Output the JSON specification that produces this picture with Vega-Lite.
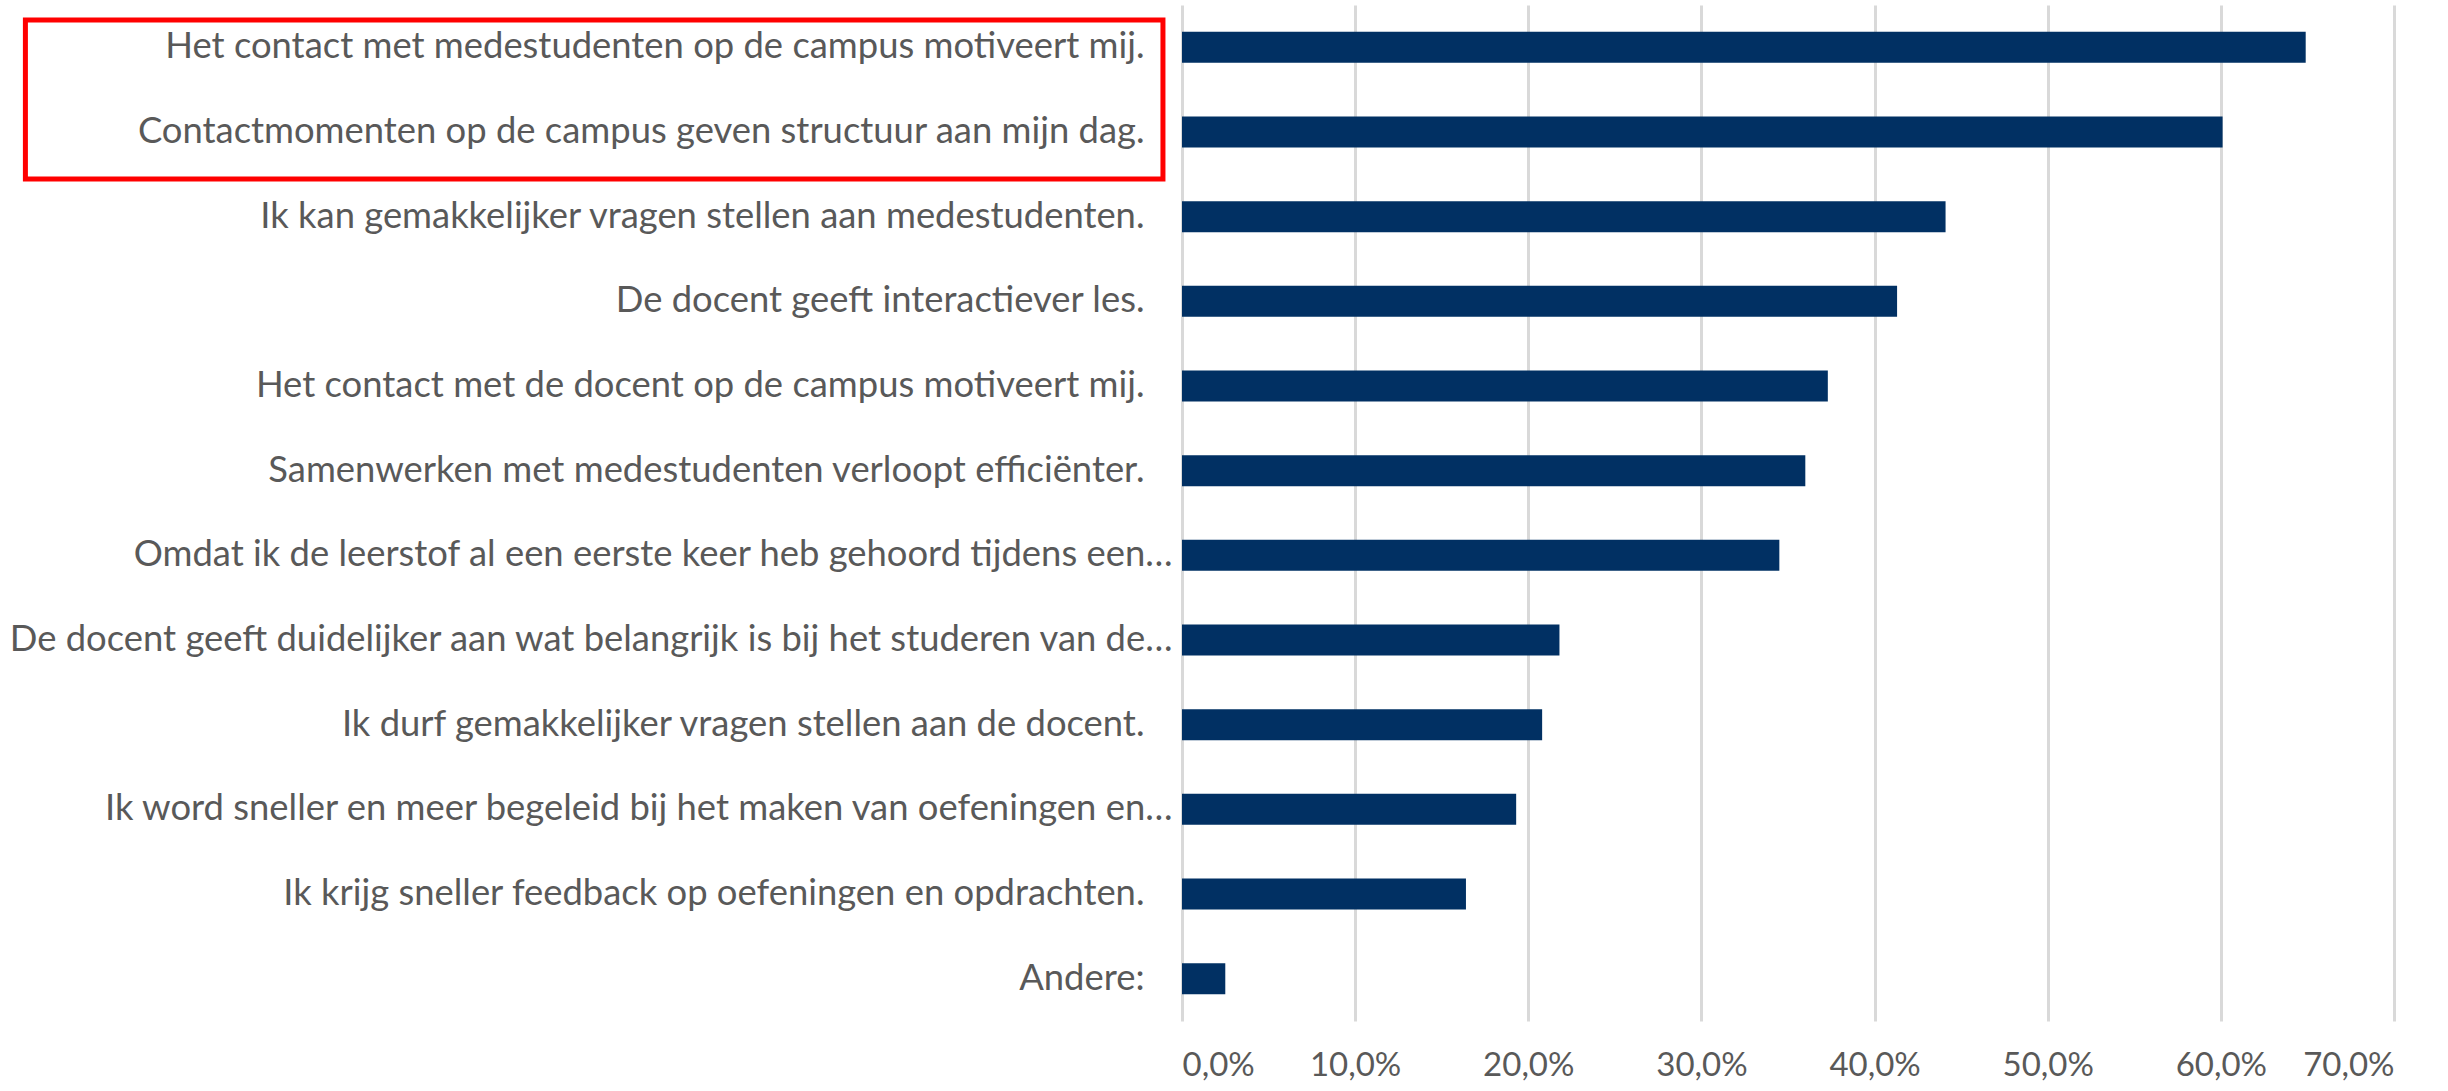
{
  "$schema": "https://vega.github.io/schema/vega-lite/v6.json",
  "autosize": {"type": "none"},
  "padding": {"left": 1182, "top": 5, "right": 54, "bottom": 70},
  "width": 1212,
  "height": 1016,
  "config": {"view": {"stroke": null}, "font": "Lato"},
  "layer": [
    {
      "data": {
        "values": [
          {"label": "Het contact met medestudenten op de campus motiveert mij.", "value": 0.649},
          {"label": "Contactmomenten op de campus geven structuur aan mijn dag.", "value": 0.601},
          {"label": "Ik kan gemakkelijker vragen stellen aan medestudenten.", "value": 0.441},
          {"label": "De docent geeft interactiever les.", "value": 0.413},
          {"label": "Het contact met de docent op de campus motiveert mij.", "value": 0.373},
          {"label": "Samenwerken met medestudenten verloopt efficiënter.", "value": 0.360},
          {"label": "Omdat ik de leerstof al een eerste keer heb gehoord tijdens een…", "value": 0.345},
          {"label": "De docent geeft duidelijker aan wat belangrijk is bij het studeren van de…", "value": 0.218},
          {"label": "Ik durf gemakkelijker vragen stellen aan de docent.", "value": 0.208},
          {"label": "Ik word sneller en meer begeleid bij het maken van oefeningen en…", "value": 0.193},
          {"label": "Ik krijg sneller feedback op oefeningen en opdrachten.", "value": 0.164},
          {"label": "Andere:", "value": 0.025}
        ]
      },
      "mark": {"type": "bar", "color": "#013063"},
      "encoding": {
        "y": {
          "field": "label",
          "type": "nominal",
          "sort": null,
          "scale": {"paddingInner": 0.634, "paddingOuter": 0.317},
          "axis": {
            "title": null,
            "domain": false,
            "ticks": false,
            "grid": false,
            "labelFont": "Lato",
            "labelFontSize": 36.4,
            "labelColor": "#595959",
            "labelPadding": {"condition": {"test": "indexof(datum.label, '…') >= 0", "value": 10}, "value": 38},
            "labelLimit": 0
          }
        },
        "x": {
          "field": "value",
          "type": "quantitative",
          "scale": {"domain": [0, 0.7], "nice": false},
          "axis": {
            "title": null,
            "values": [0, 0.1, 0.2, 0.3, 0.4, 0.5, 0.6, 0.7],
            "format": ".1%",
            "labelExpr": "replace(datum.label, '.', ',')",
            "domain": false,
            "ticks": false,
            "grid": true,
            "gridColor": "#D9D9D9",
            "gridWidth": 3,
            "labelFont": "Lato",
            "labelFontSize": 33,
            "labelColor": "#595959",
            "labelPadding": 28
          }
        }
      }
    },
    {
      "data": {"values": [{"x1": -0.668, "x2": -0.011, "y1": 0.177, "y2": 2.055}]},
      "mark": {"type": "rect", "filled": false, "color": "#FF0000", "strokeWidth": 5, "clip": false},
      "encoding": {
        "x": {"field": "x1", "type": "quantitative", "scale": {"domain": [0, 0.7], "nice": false}},
        "x2": {"field": "x2"},
        "y": {"field": "y1", "type": "quantitative", "scale": {"domain": [0, 12], "reverse": true, "nice": false, "zero": false}, "axis": null},
        "y2": {"field": "y2"}
      }
    }
  ],
  "resolve": {"scale": {"y": "independent"}}
}
